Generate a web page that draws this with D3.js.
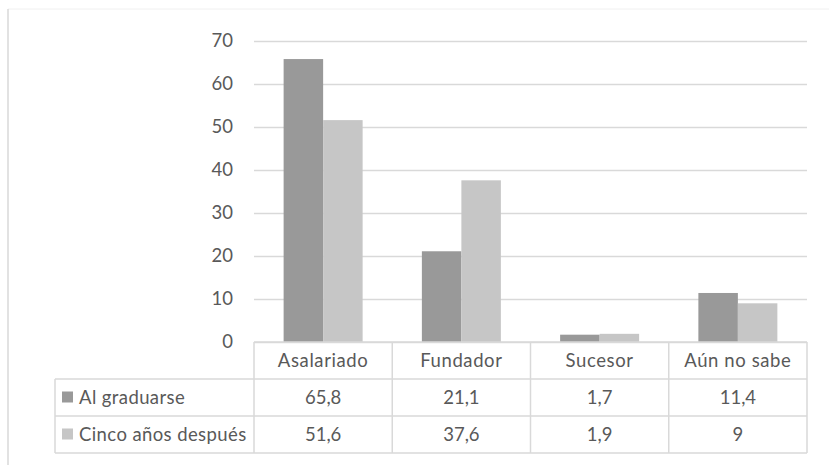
<!DOCTYPE html>
<html>
<head>
<meta charset="utf-8">
<script src="https://cdn.jsdelivr.net/npm/d3@7"></script>
<style>
  html, body { margin: 0; padding: 0; background: #fff; }
  svg { display: block; }
</style>
</head>
<body>
<svg id="chart" width="829" height="465"></svg>
<script>
// data
var categories = ["Asalariado", "Fundador", "Sucesor", "Aún no sabe"];
var seriesNames = ["Al graduarse", "Cinco años después"];
var alGraduarse = [65.8, 21.1, 1.7, 11.4];
var cincoAnos = [51.6, 37.6, 1.9, 9];
var yTicks = [0, 10, 20, 30, 40, 50, 60, 70];

var colors = ["#999999", "#c6c6c6"];
var textColor = "#595959";
var lineColor = "#d9d9d9";
var font = "Lato, 'Open Sans', sans-serif";
var fontSize = '18.5px';
var spacing = '0.6px';

var svg = d3.select('#chart');
var plot = { left: 254, right: 807, top: 41, bottom: 342 };
var rowEdges = [342, 379, 416, 453];
var legendLeft = 55;

// frame
svg.append('line')
    .attr('x1', 8).attr('x2', 829).attr('y1', 9).attr('y2', 9)
    .style('stroke', '#f0f0f0').style('stroke-width', 1);
svg.append('line')
    .attr('x1', 8).attr('x2', 8).attr('y1', 9).attr('y2', 465)
    .style('stroke', lineColor).style('stroke-width', 1.5);

var yScale = d3.scaleLinear()
    .domain([0, 70])
    .range([plot.bottom, plot.top]);

var x0 = d3.scaleBand()
    .domain(categories)
    .range([plot.left, plot.right]);

var x1 = d3.scaleBand()
    .domain(seriesNames)
    .range([0, x0.bandwidth()])
    .paddingInner(0)
    .paddingOuter(0.75);

// gridlines + tick labels
var yAxis = svg.append('g')
    .attr('transform', `translate(${plot.left},0)`)
    .call(d3.axisLeft(yScale).tickValues(yTicks).tickSize(-(plot.right - plot.left)).tickPadding(21));
yAxis.select('.domain').remove();
yAxis.selectAll('.tick line')
    .style('stroke', lineColor)
    .style('stroke-width', 1.5);
yAxis.selectAll('.tick text')
    .style('font-family', font)
    .style('font-size', fontSize)
    .style('fill', textColor);

// bars
var seriesValues = [alGraduarse, cincoAnos];
seriesValues.forEach(function(vals, s) {
    svg.append('g').selectAll('rect')
        .data(vals)
        .enter().append('rect')
        .attr('x', (d, i) => x0(categories[i]) + x1(seriesNames[s]))
        .attr('width', x1.bandwidth())
        .attr('y', d => yScale(d))
        .attr('height', d => yScale(0) - yScale(d))
        .style('fill', colors[s]);
});

// data table
var table = svg.append('g');
// horizontal lines
table.append('line')
    .attr('x1', plot.left).attr('x2', plot.right)
    .attr('y1', rowEdges[0]).attr('y2', rowEdges[0]);
for (var r = 1; r < rowEdges.length; r++) {
    table.append('line')
        .attr('x1', legendLeft).attr('x2', plot.right)
        .attr('y1', rowEdges[r]).attr('y2', rowEdges[r]);
}
// vertical lines
table.append('line')
    .attr('x1', legendLeft).attr('x2', legendLeft)
    .attr('y1', rowEdges[1]).attr('y2', rowEdges[3]);
var colEdges = categories.map(c => x0(c)).concat([plot.right]);
colEdges.forEach(function(x) {
    table.append('line')
        .attr('x1', x).attr('x2', x)
        .attr('y1', rowEdges[0]).attr('y2', rowEdges[3]);
});
table.selectAll('line')
    .style('stroke', lineColor)
    .style('stroke-width', 1.5);

// category labels
table.selectAll('text.cat')
    .data(categories)
    .enter().append('text')
    .attr('class', 'cat')
    .attr('x', d => x0(d) + x0.bandwidth() / 2)
    .attr('y', (rowEdges[0] + rowEdges[1]) / 2)
    .attr('dy', '0.35em')
    .attr('text-anchor', 'middle')
    .style('font-family', font)
    .style('font-size', fontSize)
    .style('letter-spacing', spacing)
    .style('fill', textColor)
    .text(d => d);

// value rows
seriesValues.forEach(function(vals, s) {
    var yMid = (rowEdges[s + 1] + rowEdges[s + 2]) / 2;
    table.append('rect')
        .attr('x', legendLeft + 7)
        .attr('y', yMid - 6)
        .attr('width', 11)
        .attr('height', 11)
        .style('fill', colors[s]);
    table.append('text')
        .attr('x', legendLeft + 24)
        .attr('y', yMid)
        .attr('dy', '0.35em')
        .style('font-family', font)
        .style('font-size', fontSize)
        .style('letter-spacing', '0.4px')
        .style('fill', textColor)
        .text(seriesNames[s]);
    table.selectAll('text.v' + s)
        .data(vals)
        .enter().append('text')
        .attr('class', 'v' + s)
        .attr('x', (d, i) => x0(categories[i]) + x0.bandwidth() / 2)
        .attr('y', yMid)
        .attr('dy', '0.35em')
        .attr('text-anchor', 'middle')
        .style('font-family', font)
        .style('font-size', fontSize)
        .style('fill', textColor)
        .text(d => String(d).replace('.', ','));
});
</script>
</body>
</html>
